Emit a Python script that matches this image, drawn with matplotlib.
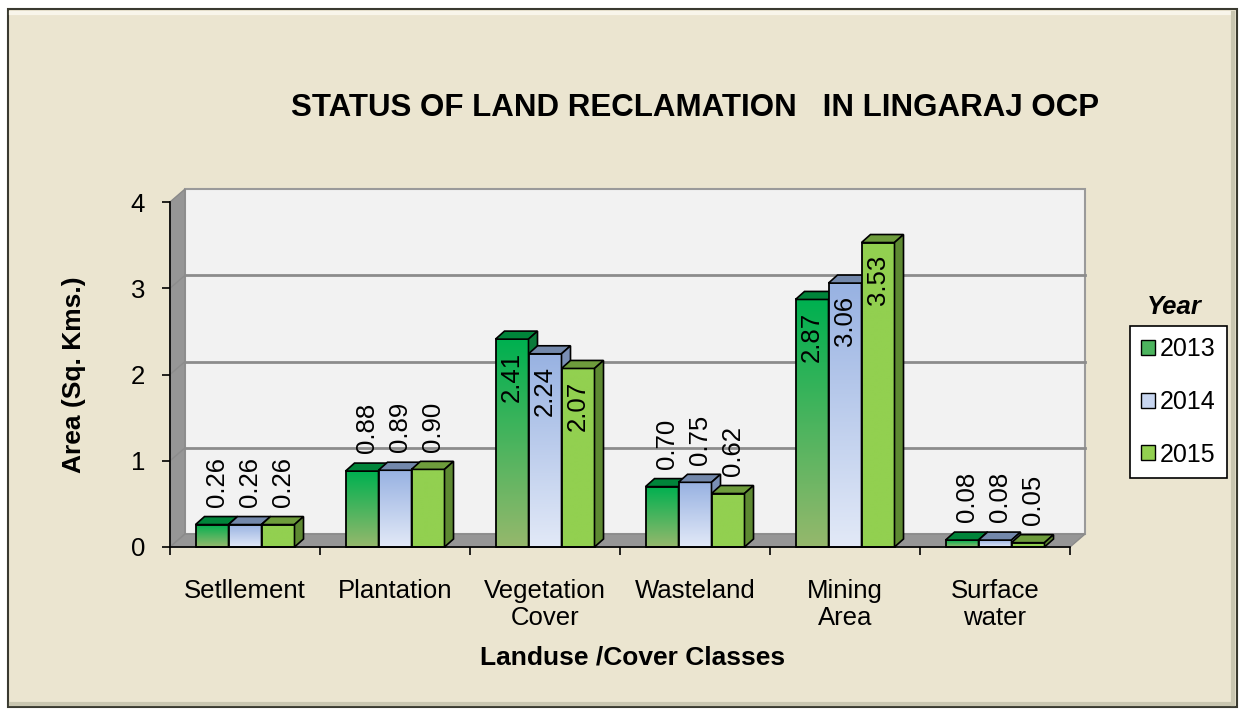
import numpy as np
import matplotlib.pyplot as plt
from matplotlib.patches import Polygon, Rectangle, Patch
from matplotlib.colors import to_rgb

plt.rcParams['font.family'] = ['Liberation Sans', 'DejaVu Sans']

# data
classes = ['Setllement', 'Plantation', 'Vegetation\nCover', 'Wasteland', 'Mining\nArea', 'Surface\nwater']
years = ['2013', '2014', '2015']
area_2013 = [0.26, 0.88, 2.41, 0.70, 2.87, 0.08]
area_2014 = [0.26, 0.89, 2.24, 0.75, 3.06, 0.08]
area_2015 = [0.26, 0.90, 2.07, 0.62, 3.53, 0.05]
yticks = [0, 1, 2, 3, 4]

# colours: gradient top, gradient bottom, top face, side face, legend
styles = [
    ('#00b050', '#95b86c', '#00843a', '#0b7a3a', '#4cb45e'),
    ('#98b2e2', '#e2e9f7', '#7388ab', '#7a8fb5', '#c8d6f0'),
    ('#92d050', '#92d050', '#6e9c3c', '#5e8a32', '#92d050'),
]

W, H = 1241, 713
fig = plt.figure(figsize=(W / 100, H / 100), dpi=100)
fig.patch.set_facecolor('white')

# chart area frame with a little bevel
fig.add_artist(Rectangle((8 / W, 6 / H), 1229 / W, 698 / H, transform=fig.transFigure,
                         fc='#ebe5d0', ec='#3a3a30', lw=1.5, zorder=-5))
fig.add_artist(plt.Line2D([11 / W, 1233 / W], [700 / H, 700 / H], transform=fig.transFigure,
                          color='#f8f5ea', lw=3, zorder=-4))
fig.add_artist(plt.Line2D([1233 / W, 1233 / W], [9 / H, 700 / H], transform=fig.transFigure,
                          color='#c9c6b0', lw=3, zorder=-4))
fig.add_artist(plt.Line2D([11 / W, 1233 / W], [9 / H, 9 / H], transform=fig.transFigure,
                          color='#c9c6b0', lw=3, zorder=-4))

ax = fig.add_axes([170 / W, 166 / H, 900 / W, 345 / H])
ax.set_facecolor('none')

# depth of walls and bars (data units)
dx, dy = 0.1, 0.15
bdx, bdy = 0.06, 0.093
ncat = len(classes)
ymax = yticks[-1]

# back wall, side wall, floor
ax.add_patch(Polygon([(dx, dy), (ncat + dx, dy), (ncat + dx, ymax + dy), (dx, ymax + dy)],
                     closed=True, fc='#f2f2f2', ec='#9a9a9a', lw=1.5, clip_on=False, zorder=0))
ax.add_patch(Polygon([(0, 0), (dx, dy), (dx, ymax + dy), (0, ymax)],
                     closed=True, fc='#969696', ec='#8a8a8a', lw=1, clip_on=False, zorder=0.5))
ax.add_patch(Polygon([(0, 0), (ncat, 0), (ncat + dx, dy), (dx, dy)],
                     closed=True, fc='#969696', ec='#8a8a8a', lw=1, clip_on=False, zorder=0.5))
for t in yticks[1:-1]:
    ax.plot([dx, ncat + dx], [t + dy, t + dy], color='#8c8c8c', lw=2, clip_on=False, zorder=0.6)
    ax.plot([0, dx], [t, t + dy], color='#8c8c8c', lw=1, clip_on=False, zorder=0.6)

series = [area_2013, area_2014, area_2015]
bw = 0.22
k = 0
for i in range(ncat):
    for j, vals in enumerate(series):
        v = vals[i]
        top, bot, topface, side, _ = styles[j]
        x0 = i + 0.17 + j * bw
        z = 3 + k * 0.1
        k += 1
        grad = np.linspace(0, 1, 64)[:, None]
        c1, c2 = np.array(to_rgb(top)), np.array(to_rgb(bot))
        img = (c1 * (1 - grad) + c2 * grad)[:, None, :]
        ax.imshow(img, extent=(x0, x0 + bw, 0, v), aspect='auto', interpolation='bilinear',
                  zorder=z, clip_on=False)
        ax.add_patch(Rectangle((x0, 0), bw, v, fill=False, ec='black', lw=1.3,
                               zorder=z + 0.01, clip_on=False))
        ax.add_patch(Polygon([(x0, v), (x0 + bw, v), (x0 + bw + bdx, v + bdy), (x0 + bdx, v + bdy)],
                             closed=True, fc=topface, ec='black', lw=1.2, zorder=z + 0.02, clip_on=False))
        ax.add_patch(Polygon([(x0 + bw, 0), (x0 + bw + bdx, bdy), (x0 + bw + bdx, v + bdy), (x0 + bw, v)],
                             closed=True, fc=side, ec='black', lw=1.2, zorder=z + 0.02, clip_on=False))
        if v >= 1.5:
            ax.annotate(f'{v:.2f}', xy=(x0 + bw / 2, v), xytext=(0, -9), textcoords='offset points',
                        rotation=90, ha='center', va='top', fontsize=18.5, zorder=10)
        else:
            ax.annotate(f'{v:.2f}', xy=(x0 + bw / 2 + bdx * 0.6, v + bdy), xytext=(0, 7),
                        textcoords='offset points', rotation=90, ha='center', va='bottom',
                        fontsize=18.5, zorder=10)

ax.set_xlim(0, ncat)
ax.set_ylim(0, ymax)
ax.set_yticks(yticks)
ax.set_xticks(range(ncat + 1))
ax.set_xticklabels([])
ax.set_xticks(np.arange(ncat) + 0.5, minor=True)
ax.set_xticklabels(classes, minor=True, linespacing=1.15)
ax.tick_params(axis='both', which='major', direction='out', length=6, width=1.2, labelsize=18.5, pad=12)
ax.tick_params(axis='x', which='minor', length=0, labelsize=18.5, pad=23)
for s in ['top', 'right']:
    ax.spines[s].set_visible(False)
for s in ['left', 'bottom']:
    ax.spines[s].set_linewidth(1.2)
    ax.spines[s].set_zorder(20)

ax.set_ylabel('Area (Sq. Kms.)', fontsize=19, fontweight='bold')
ax.yaxis.set_label_coords(-0.093, 0.5)
ax.set_xlabel('Landuse /Cover Classes', fontsize=19, fontweight='bold')
ax.xaxis.set_label_coords(0.514, -0.285)

fig.text(695 / W, 1 - 108 / H, 'STATUS OF LAND RECLAMATION   IN LINGARAJ OCP',
         ha='center', va='center', fontsize=22.5, fontweight='bold')

handles = [Patch(fc=s[4], ec='black', lw=1) for s in styles]
leg = ax.legend(handles, years, loc='upper left', bbox_to_anchor=(1130 / W, 1 - 326 / H),
                bbox_transform=fig.transFigure, fontsize=18, frameon=True, fancybox=False,
                edgecolor='black', framealpha=1, handlelength=0.55, handleheight=0.55,
                handletextpad=0.2, labelspacing=1.15, borderpad=0.45, borderaxespad=0)
leg.get_frame().set_linewidth(1.2)
fig.text(1174 / W, 1 - 307 / H, 'Year', ha='center', va='center', fontsize=18.5,
         fontweight='bold', fontstyle='italic')

fig.savefig('out.png', dpi=100)
